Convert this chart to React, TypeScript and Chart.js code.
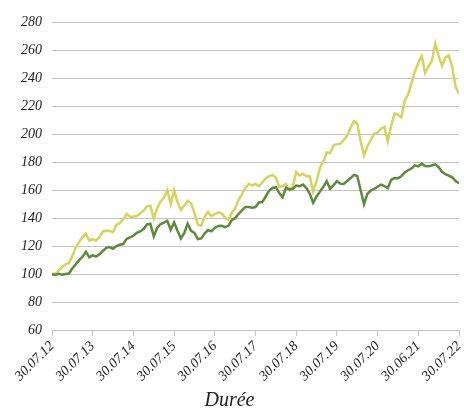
import React, { useEffect, useRef } from "react";
import { Chart, registerables } from "chart.js";

Chart.register(...registerables);

const xTickLabels = [
  "30.07.12", "30.07.13", "30.07.14", "30.07.15", "30.07.16", "30.07.17",
  "30.07.18", "30.07.19", "30.07.20", "30.06.21", "30.07.22",
];

const yTicks = [60, 80, 100, 120, 140, 160, 180, 200, 220, 240, 260, 280];

const lightSeries = [
  100, 100.5, 102.5, 105, 107, 108, 113, 119, 123, 126.5, 129, 124,
  125, 124, 126.5, 130.5, 131, 131, 130, 135.5, 136.5, 139, 143, 141,
  141, 141.5, 143.5, 145.5, 148.5, 149, 140, 147, 152, 154.5, 160, 150,
  160, 151.5, 146, 149, 152.5, 150.5, 144, 135.5, 134.7, 141, 144.5, 141.5,
  143, 144, 143.5, 140.5, 139, 144, 147, 153, 157, 161.5, 164.5, 163.5,
  164.5, 163, 165.5, 168.5, 170, 171, 169, 162.5, 163, 164.5, 160, 162.5,
  173, 170.5, 171.8, 170, 170, 159, 166.5, 176, 180.5, 187, 186.5, 192,
  193, 193.3, 195.8, 199, 204.5, 209.3, 207.8, 195, 185, 191.5, 196, 200.5,
  201.2, 204, 205.3, 195, 206, 215, 214, 212.2, 224, 228.5, 236.5, 245,
  251, 256, 244, 248.5, 252.5, 265, 256, 249, 255, 256.5, 248, 234,
  229,
];

const darkSeries = [
  100, 99.4, 100.2, 99.6, 100, 100.4, 104, 107, 110, 112.5, 116, 112,
  113.5, 112.5, 114.2, 116.5, 118.8, 119.3, 118.1, 120, 121, 121.5, 125.2, 126.3,
  127.4, 129.5, 130.5, 132.2, 135.5, 136, 127, 133, 135.8, 136.8, 138.2, 131.7,
  137, 131, 125.5, 129.5, 136, 131, 129.5, 125, 125.5, 129, 131.5, 130.6,
  133, 134.4, 134.5, 133.5, 134.5, 138.5, 140, 143, 145.5, 148, 148, 147.5,
  148, 151.2, 151.5, 155.5, 159.5, 161.6, 162.2, 158, 155, 161.8, 160.5, 161,
  163.3, 162.8, 164, 161.5, 157.5, 151, 155.5, 159, 162.5, 166.5, 161, 163.6,
  166.5, 164.7, 164.5, 166.6, 168.5, 171, 170.2, 160, 150, 157.5, 159.8, 161,
  162.5, 164, 163, 161.5, 167.4, 168.8, 168.6, 170, 172.7, 174.3, 175.5, 177.8,
  177.1, 179, 177.3, 177.2, 177.7, 178.5, 176.5, 173.2, 171.5, 170.5, 169.2, 166.5,
  165,
];

const toPoints = (arr: number[]) => arr.map((y, i) => ({ x: i, y }));

const FONT = "'Liberation Serif', 'Times New Roman', serif";

export default function App() {
  const ref = useRef<HTMLCanvasElement | null>(null);

  useEffect(() => {
    document.body.style.margin = "0";
    if (!ref.current) return;
    const chart = new Chart(ref.current, {
      type: "line",
      data: {
        datasets: [
          {
            data: toPoints(darkSeries),
            borderColor: "#5e8a3c",
            borderWidth: 2.5,
            pointRadius: 0,
            tension: 0,
            fill: false,
          },
          {
            data: toPoints(lightSeries),
            borderColor: "#d4d45c",
            borderWidth: 2.5,
            pointRadius: 0,
            tension: 0,
            fill: false,
          },
        ],
      },
      options: {
        animation: false,
        responsive: true,
        maintainAspectRatio: false,
        layout: { padding: { top: 22.5, right: 5, left: 0, bottom: 0 } },
        plugins: {
          legend: { display: false },
          tooltip: { enabled: false },
          title: {
            display: true,
            position: "bottom",
            text: "Durée",
            color: "#222",
            font: { family: FONT, size: 20, style: "italic", weight: "normal" },
            padding: { top: 4, bottom: -4 },
          },
        },
        scales: {
          x: {
            type: "linear",
            min: 0,
            max: (xTickLabels.length - 1) * 12,
            afterBuildTicks: (scale: any) => {
              scale.ticks = xTickLabels.map((_, i) => ({ value: i * 12 }));
            },
            afterFit: (scale: any) => {
              scale.height = 55;
              scale.paddingLeft = 0;
              scale.paddingRight = 0;
            },
            ticks: {
              autoSkip: false,
              minRotation: 45,
              maxRotation: 45,
              padding: 2,
              color: "#222",
              font: { family: FONT, size: 14, style: "italic" },
              callback: (v: any) => xTickLabels[Math.round(Number(v) / 12)] ?? "",
            },
            grid: {
              drawOnChartArea: false,
              drawTicks: true,
              tickLength: 6,
              color: "#c4c4c4",
              lineWidth: 1,
            },
            border: { display: true, color: "#c4c4c4", width: 1 },
          },
          y: {
            min: 60,
            max: 280,
            afterBuildTicks: (scale: any) => {
              scale.ticks = yTicks.map((v) => ({ value: v }));
            },
            afterFit: (scale: any) => {
              scale.width = 52;
              scale.paddingTop = 0;
              scale.paddingBottom = 0;
            },
            ticks: {
              padding: 10,
              color: "#222",
              font: { family: FONT, size: 14, style: "italic" },
            },
            grid: {
              drawTicks: false,
              color: "#c4c4c4",
              lineWidth: 1,
            },
            border: { display: false },
          },
        },
      },
    });
    return () => chart.destroy();
  }, []);

  return (
    <div style={{ width: 464, height: 409, position: "relative" }}>
      <canvas ref={ref} />
    </div>
  );
}
